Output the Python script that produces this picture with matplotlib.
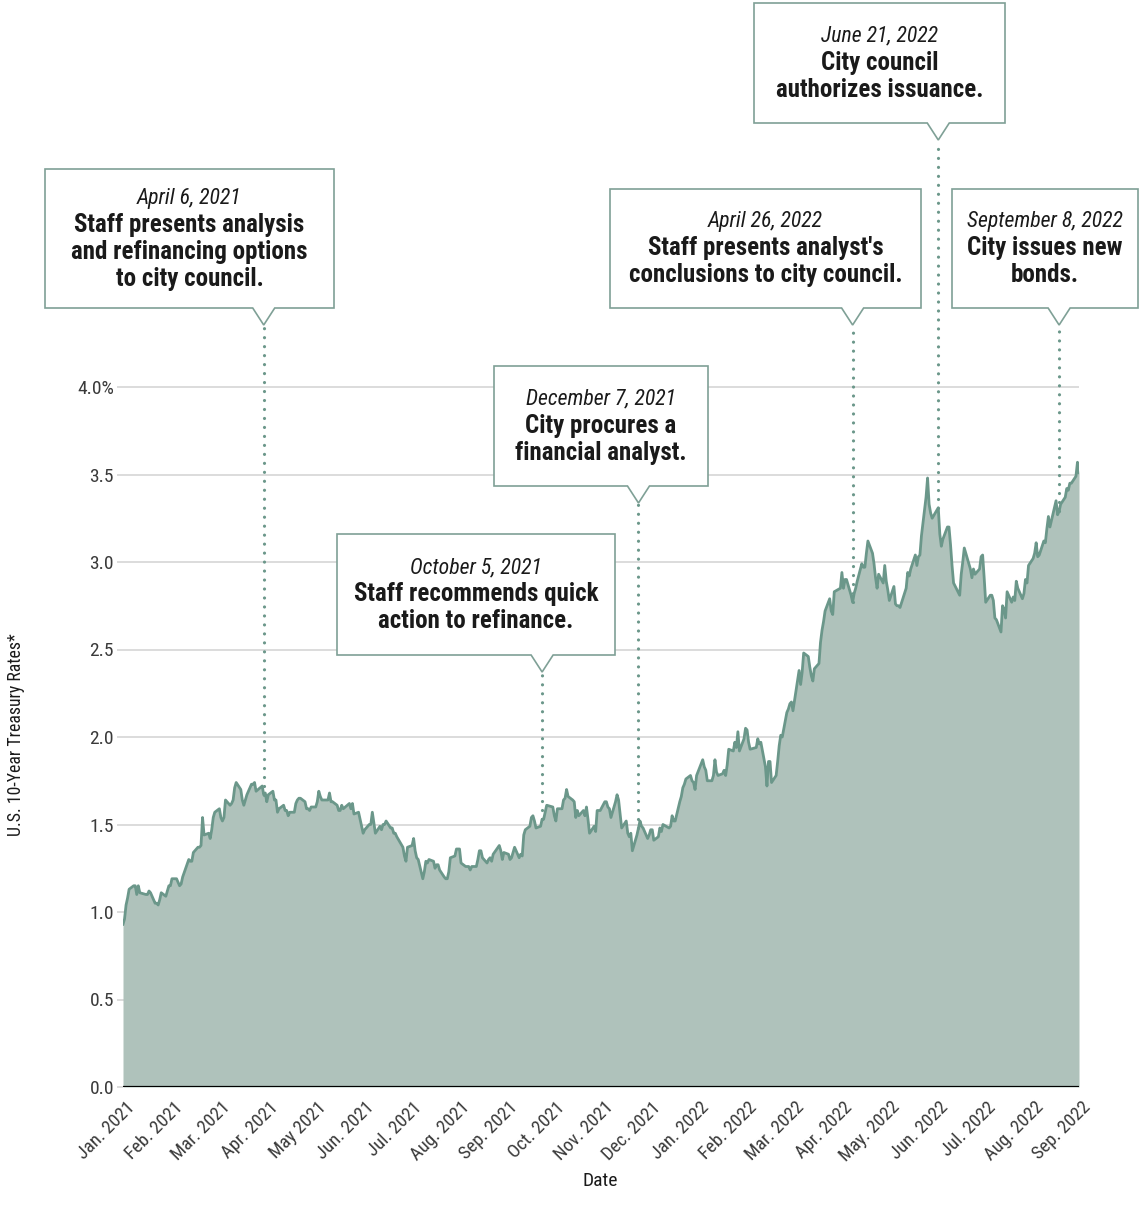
import matplotlib
matplotlib.use("Agg")
import matplotlib.pyplot as plt
import matplotlib.dates as mdates
import matplotlib.transforms as mtransforms
from matplotlib.patches import Polygon
import numpy as np
import pandas as pd

# ---------------- data ----------------
trade_dates = [
    '2021-01-04','2021-01-05','2021-01-06','2021-01-07','2021-01-08','2021-01-11','2021-01-12','2021-01-13','2021-01-14','2021-01-15','2021-01-19','2021-01-20','2021-01-21','2021-01-22','2021-01-25','2021-01-26','2021-01-27','2021-01-28','2021-01-29',
    '2021-02-01','2021-02-02','2021-02-03','2021-02-04','2021-02-05','2021-02-08','2021-02-09','2021-02-10','2021-02-11','2021-02-12','2021-02-16','2021-02-17','2021-02-18','2021-02-19','2021-02-22','2021-02-23','2021-02-24','2021-02-25','2021-02-26',
    '2021-03-01','2021-03-02','2021-03-03','2021-03-04','2021-03-05','2021-03-08','2021-03-09','2021-03-10','2021-03-11','2021-03-12','2021-03-15','2021-03-16','2021-03-17','2021-03-18','2021-03-19','2021-03-22','2021-03-23','2021-03-24','2021-03-25','2021-03-26','2021-03-29','2021-03-30','2021-03-31',
    '2021-04-01','2021-04-05','2021-04-06','2021-04-07','2021-04-08','2021-04-09','2021-04-12','2021-04-13','2021-04-14','2021-04-15','2021-04-16','2021-04-19','2021-04-20','2021-04-21','2021-04-22','2021-04-23','2021-04-26','2021-04-27','2021-04-28','2021-04-29','2021-04-30',
    '2021-05-03','2021-05-04','2021-05-05','2021-05-06','2021-05-07','2021-05-10','2021-05-11','2021-05-12','2021-05-13','2021-05-14','2021-05-17','2021-05-18','2021-05-19','2021-05-20','2021-05-21','2021-05-24','2021-05-25','2021-05-26','2021-05-27','2021-05-28',
    '2021-06-01','2021-06-02','2021-06-03','2021-06-04','2021-06-07','2021-06-08','2021-06-09','2021-06-10','2021-06-11','2021-06-14','2021-06-15','2021-06-16','2021-06-17','2021-06-18','2021-06-21','2021-06-22','2021-06-23','2021-06-24','2021-06-25','2021-06-28','2021-06-29','2021-06-30',
    '2021-07-01','2021-07-02','2021-07-06','2021-07-07','2021-07-08','2021-07-09','2021-07-12','2021-07-13','2021-07-14','2021-07-15','2021-07-16','2021-07-19','2021-07-20','2021-07-21','2021-07-22','2021-07-23','2021-07-26','2021-07-27','2021-07-28','2021-07-29','2021-07-30',
    '2021-08-02','2021-08-03','2021-08-04','2021-08-05','2021-08-06','2021-08-09','2021-08-10','2021-08-11','2021-08-12','2021-08-13','2021-08-16','2021-08-17','2021-08-18','2021-08-19','2021-08-20','2021-08-23','2021-08-24','2021-08-25','2021-08-26','2021-08-27','2021-08-30','2021-08-31',
    '2021-09-01','2021-09-02','2021-09-03','2021-09-07','2021-09-08','2021-09-09','2021-09-10','2021-09-13','2021-09-14','2021-09-15','2021-09-16','2021-09-17','2021-09-20','2021-09-21','2021-09-22','2021-09-23','2021-09-24','2021-09-27','2021-09-28','2021-09-29','2021-09-30',
    '2021-10-01','2021-10-04','2021-10-05','2021-10-06','2021-10-07','2021-10-08','2021-10-12','2021-10-13','2021-10-14','2021-10-15','2021-10-18','2021-10-19','2021-10-20','2021-10-21','2021-10-22','2021-10-25','2021-10-26','2021-10-27','2021-10-28','2021-10-29',
    '2021-11-01','2021-11-02','2021-11-03','2021-11-04','2021-11-05','2021-11-08','2021-11-09','2021-11-10','2021-11-12','2021-11-15','2021-11-16','2021-11-17','2021-11-18','2021-11-19','2021-11-22','2021-11-23','2021-11-24','2021-11-26','2021-11-29','2021-11-30',
    '2021-12-01','2021-12-02','2021-12-03','2021-12-06','2021-12-07','2021-12-08','2021-12-09','2021-12-10','2021-12-13','2021-12-14','2021-12-15','2021-12-16','2021-12-17','2021-12-20','2021-12-21','2021-12-22','2021-12-23','2021-12-27','2021-12-28','2021-12-29','2021-12-30','2021-12-31',
    '2022-01-03','2022-01-04','2022-01-05','2022-01-06','2022-01-07','2022-01-10','2022-01-11','2022-01-12','2022-01-13','2022-01-14','2022-01-18','2022-01-19','2022-01-20','2022-01-21','2022-01-24','2022-01-25','2022-01-26','2022-01-27','2022-01-28','2022-01-31',
    '2022-02-01','2022-02-02','2022-02-03','2022-02-04','2022-02-07','2022-02-08','2022-02-09','2022-02-10','2022-02-11','2022-02-14','2022-02-15','2022-02-16','2022-02-17','2022-02-18','2022-02-22','2022-02-23','2022-02-24','2022-02-25','2022-02-28',
    '2022-03-01','2022-03-02','2022-03-03','2022-03-04','2022-03-07','2022-03-08','2022-03-09','2022-03-10','2022-03-11','2022-03-14','2022-03-15','2022-03-16','2022-03-17','2022-03-18','2022-03-21','2022-03-22','2022-03-23','2022-03-24','2022-03-25','2022-03-28','2022-03-29','2022-03-30','2022-03-31',
    '2022-04-01','2022-04-04','2022-04-05','2022-04-06','2022-04-07','2022-04-08','2022-04-11','2022-04-12','2022-04-13','2022-04-14','2022-04-18','2022-04-19','2022-04-20','2022-04-21','2022-04-22','2022-04-25','2022-04-26','2022-04-27','2022-04-28','2022-04-29',
    '2022-05-02','2022-05-03','2022-05-04','2022-05-05','2022-05-06','2022-05-09','2022-05-10','2022-05-11','2022-05-12','2022-05-13','2022-05-16','2022-05-17','2022-05-18','2022-05-19','2022-05-20','2022-05-23','2022-05-24','2022-05-25','2022-05-26','2022-05-27','2022-05-31',
    '2022-06-01','2022-06-02','2022-06-03','2022-06-06','2022-06-07','2022-06-08','2022-06-09','2022-06-10','2022-06-13','2022-06-14','2022-06-15','2022-06-16','2022-06-17','2022-06-21','2022-06-22','2022-06-23','2022-06-24','2022-06-27','2022-06-28','2022-06-29','2022-06-30',
    '2022-07-01','2022-07-05','2022-07-06','2022-07-07','2022-07-08','2022-07-11','2022-07-12','2022-07-13','2022-07-14','2022-07-15','2022-07-18','2022-07-19','2022-07-20','2022-07-21','2022-07-22','2022-07-25','2022-07-26','2022-07-27','2022-07-28','2022-07-29',
    '2022-08-01','2022-08-02','2022-08-03','2022-08-04','2022-08-05','2022-08-08','2022-08-09','2022-08-10','2022-08-11','2022-08-12','2022-08-15','2022-08-16','2022-08-17','2022-08-18','2022-08-19','2022-08-22','2022-08-23','2022-08-24','2022-08-25','2022-08-26','2022-08-29','2022-08-30','2022-08-31',
    '2022-09-01','2022-09-02','2022-09-06','2022-09-07','2022-09-08','2022-09-09','2022-09-12','2022-09-13','2022-09-14','2022-09-15','2022-09-16','2022-09-19','2022-09-20','2022-09-21',
]

rates = [
    0.93,0.96,1.04,1.08,1.13,1.15,1.15,1.10,1.15,1.11,1.10,1.10,1.12,1.11,1.05,1.05,1.04,1.07,1.11,
    1.09,1.12,1.15,1.15,1.19,1.19,1.17,1.15,1.16,1.20,1.30,1.29,1.29,1.34,1.37,1.37,1.38,1.54,1.44,
    1.45,1.42,1.47,1.54,1.57,1.59,1.54,1.52,1.54,1.64,1.61,1.62,1.64,1.71,1.74,1.70,1.64,1.61,1.64,1.67,1.73,1.73,1.74,
    1.69,1.72,1.67,1.68,1.63,1.67,1.69,1.64,1.64,1.57,1.59,1.61,1.58,1.58,1.55,1.57,1.57,1.62,1.64,1.65,1.65,
    1.63,1.59,1.59,1.58,1.60,1.60,1.63,1.69,1.66,1.64,1.64,1.64,1.68,1.63,1.63,1.61,1.58,1.58,1.61,1.59,
    1.62,1.59,1.62,1.56,1.57,1.53,1.49,1.45,1.47,1.50,1.50,1.57,1.51,1.45,1.49,1.47,1.50,1.50,1.52,1.48,1.48,1.45,
    1.45,1.43,1.37,1.32,1.29,1.37,1.38,1.42,1.35,1.31,1.30,1.19,1.23,1.29,1.28,1.30,1.29,1.25,1.27,1.27,1.24,
    1.20,1.19,1.19,1.23,1.31,1.32,1.36,1.36,1.36,1.28,1.26,1.26,1.26,1.24,1.26,1.26,1.30,1.35,1.35,1.31,1.28,1.30,
    1.31,1.29,1.33,1.38,1.35,1.30,1.34,1.33,1.30,1.31,1.34,1.37,1.31,1.33,1.32,1.44,1.47,1.49,1.54,1.55,1.52,
    1.48,1.49,1.53,1.53,1.57,1.61,1.60,1.55,1.52,1.59,1.59,1.64,1.65,1.70,1.66,1.64,1.63,1.54,1.58,1.55,
    1.58,1.55,1.60,1.53,1.45,1.49,1.46,1.58,1.58,1.63,1.63,1.60,1.59,1.54,1.63,1.67,1.64,1.48,1.52,1.45,
    1.43,1.45,1.35,1.44,1.48,1.52,1.49,1.48,1.42,1.44,1.47,1.47,1.41,1.43,1.48,1.46,1.50,1.48,1.49,1.55,1.52,1.52,
    1.63,1.66,1.71,1.73,1.76,1.78,1.75,1.74,1.70,1.78,1.87,1.83,1.81,1.75,1.75,1.78,1.87,1.80,1.78,1.79,
    1.81,1.78,1.84,1.93,1.92,1.97,1.94,2.03,1.92,1.99,2.05,2.04,1.97,1.93,1.94,1.99,1.96,1.97,1.83,
    1.72,1.86,1.86,1.74,1.78,1.86,1.95,2.01,2.00,2.14,2.16,2.19,2.20,2.15,2.32,2.38,2.30,2.37,2.48,2.46,2.40,2.35,2.32,
    2.39,2.42,2.54,2.61,2.66,2.72,2.79,2.72,2.70,2.83,2.85,2.94,2.85,2.90,2.90,2.81,2.77,2.82,2.85,2.89,
    2.99,2.97,2.97,3.05,3.12,3.05,2.99,2.91,2.85,2.93,2.88,2.98,2.89,2.84,2.78,2.86,2.76,2.75,2.75,2.74,2.85,
    2.94,2.92,2.96,3.04,2.98,3.03,3.04,3.15,3.37,3.48,3.33,3.28,3.25,3.31,3.16,3.09,3.13,3.20,3.20,3.10,2.98,
    2.88,2.81,2.93,3.00,3.08,2.99,2.96,2.91,2.96,2.93,2.96,3.03,3.04,2.91,2.77,2.81,2.81,2.78,2.68,2.67,
    2.60,2.75,2.73,2.68,2.83,2.77,2.80,2.78,2.89,2.85,2.79,2.82,2.90,2.88,2.98,3.02,3.05,3.11,3.03,3.04,3.12,3.11,3.19,
    3.26,3.20,3.35,3.27,3.29,3.33,3.37,3.42,3.41,3.45,3.45,3.49,3.57,3.51,
]

month_labels = ['Jan. 2021', 'Feb. 2021', 'Mar. 2021', 'Apr. 2021', 'May 2021', 'Jun. 2021',
                'Jul. 2021', 'Aug. 2021', 'Sep. 2021', 'Oct. 2021', 'Nov. 2021', 'Dec. 2021',
                'Jan. 2022', 'Feb. 2022', 'Mar. 2022', 'Apr. 2022', 'May. 2022', 'Jun. 2022',
                'Jul. 2022', 'Aug. 2022', 'Sep. 2022']
y_ticks = [0.0, 0.5, 1.0, 1.5, 2.0, 2.5, 3.0, 3.5, 4.0]
y_tick_labels = ['0.0', '0.5', '1.0', '1.5', '2.0', '2.5', '3.0', '3.5', '4.0%']

event_dates = ['2021-04-06', '2021-10-05', '2021-12-07', '2022-04-26', '2022-06-21', '2022-09-08']
event_titles = ['April 6, 2021', 'October 5, 2021', 'December 7, 2021',
                'April 26, 2022', 'June 21, 2022', 'September 8, 2022']
event_texts = [
    ['Staff presents analysis', 'and refinancing options', 'to city council.'],
    ['Staff recommends quick', 'action to refinance.'],
    ['City procures a', 'financial analyst.'],
    ["Staff presents analyst's", 'conclusions to city council.'],
    ['City council', 'authorizes issuance.'],
    ['City issues new', 'bonds.'],
]

assert len(trade_dates) == len(rates)

# ---------------- styling ----------------
plt.rcParams['font.family'] = ['Roboto Condensed', 'Fira Sans Condensed',
                               'Asap Condensed', 'Archivo Narrow', 'DejaVu Sans']

W, H = 1139, 1220
FILL = '#afc2bb'
LINE = '#6b978a'
EDGE = '#7fa096'
TXT = '#1a1a1a'
TICK = '#3a3a3a'

fig = plt.figure(figsize=(W / 100, H / 100), dpi=100)
fig.patch.set_facecolor('white')

# axes: x 123..1079 px, y=0 at 1087 px, 175 px per 1.0
ax = fig.add_axes([123 / W, (H - 1087) / H, (1079 - 123) / W, 1087 / H])
ax.patch.set_alpha(0)

x = mdates.date2num(pd.to_datetime(trade_dates))
y = np.array(rates)

ax.set_xlim(x[0], x[-1])
ax.set_ylim(0, 1087 / 175)

for v in y_ticks:
    ax.axhline(v, color='#d9d9d9', lw=1.3, zorder=0)

ax.fill_between(x, 0, y, color=FILL, lw=0, zorder=1)
ax.plot(x, y, color=LINE, lw=2.0, zorder=2, solid_joinstyle='round')
ax.axhline(0, color='black', lw=1.6, zorder=3)

for s in ['top', 'right', 'left', 'bottom']:
    ax.spines[s].set_visible(False)

ax.set_yticks(y_ticks)
ax.set_yticklabels(y_tick_labels, fontsize=14, color=TICK)
ax.tick_params(axis='y', length=4, color='#d9d9d9', width=1.3, pad=2.5)

ax.set_xticks(np.linspace(x[0], x[-1], len(month_labels)))
ax.set_xticklabels(month_labels, rotation=45, ha='right', va='top',
                   rotation_mode='anchor', fontsize=13.5, color=TICK)
ax.tick_params(axis='x', length=0, pad=8)
offset = mtransforms.ScaledTranslation(3 / 100, 0, fig.dpi_scale_trans)
for lab in ax.get_xticklabels():
    lab.set_transform(lab.get_transform() + offset)

fig.text(16 / W, 1 - 735 / H, 'U.S. 10-Year Treasury Rates*', rotation=90,
         ha='center', va='center', fontsize=12.8, color=TXT)
fig.text(600 / W, 1 - 1181 / H, 'Date', ha='center', va='center',
         fontsize=14, color=TXT)

# ---------------- callouts ----------------
boxes_px = [(45, 169, 334, 308), (337, 534, 615, 655), (494, 366, 708, 486),
            (610, 189, 921, 308), (754, 3, 1005, 123), (952, 189, 1138, 308)]
notch_half = 11
notch_depth = 17
line_gap = 26.7

fig.canvas.draw()
for d, title, lines, (l, t, r, b) in zip(event_dates, event_titles, event_texts, boxes_px):
    xd = mdates.date2num(pd.Timestamp(d))
    tip_x = ax.transData.transform((xd, 0))[0]
    tip_y = b + notch_depth
    pts = [(l, t), (r, t), (r, b), (tip_x + notch_half, b), (tip_x, tip_y),
           (tip_x - notch_half, b), (l, b)]
    poly = Polygon([(px / W, 1 - py / H) for px, py in pts], closed=True,
                   transform=fig.transFigure, facecolor='white', edgecolor=EDGE,
                   lw=1.2, zorder=5)
    fig.add_artist(poly)
    # dotted leader line from curve to notch tip
    val = np.interp(xd, x, y)
    tip_data_y = ax.transData.inverted().transform((tip_x, H - tip_y))[1]
    ax.plot([xd, xd], [val, tip_data_y], color=LINE, lw=2.3,
            linestyle=(0, (0.01, 2.8)), dash_capstyle='round', zorder=4,
            clip_on=False)
    # text block
    n = 1 + len(lines)
    cy = (t + b) / 2
    cx = (l + r) / 2
    y0 = cy - (n - 1) / 2 * line_gap
    fig.text(cx / W, 1 - y0 / H, title, ha='center', va='center',
             fontsize=15.7, style='italic', color=TXT, zorder=6)
    for i, ln in enumerate(lines, start=1):
        fig.text(cx / W, 1 - (y0 + i * line_gap) / H, ln, ha='center', va='center',
                 fontsize=18, fontweight='bold', color=TXT, zorder=6)

fig.savefig('out.png', dpi=100, facecolor='white')
